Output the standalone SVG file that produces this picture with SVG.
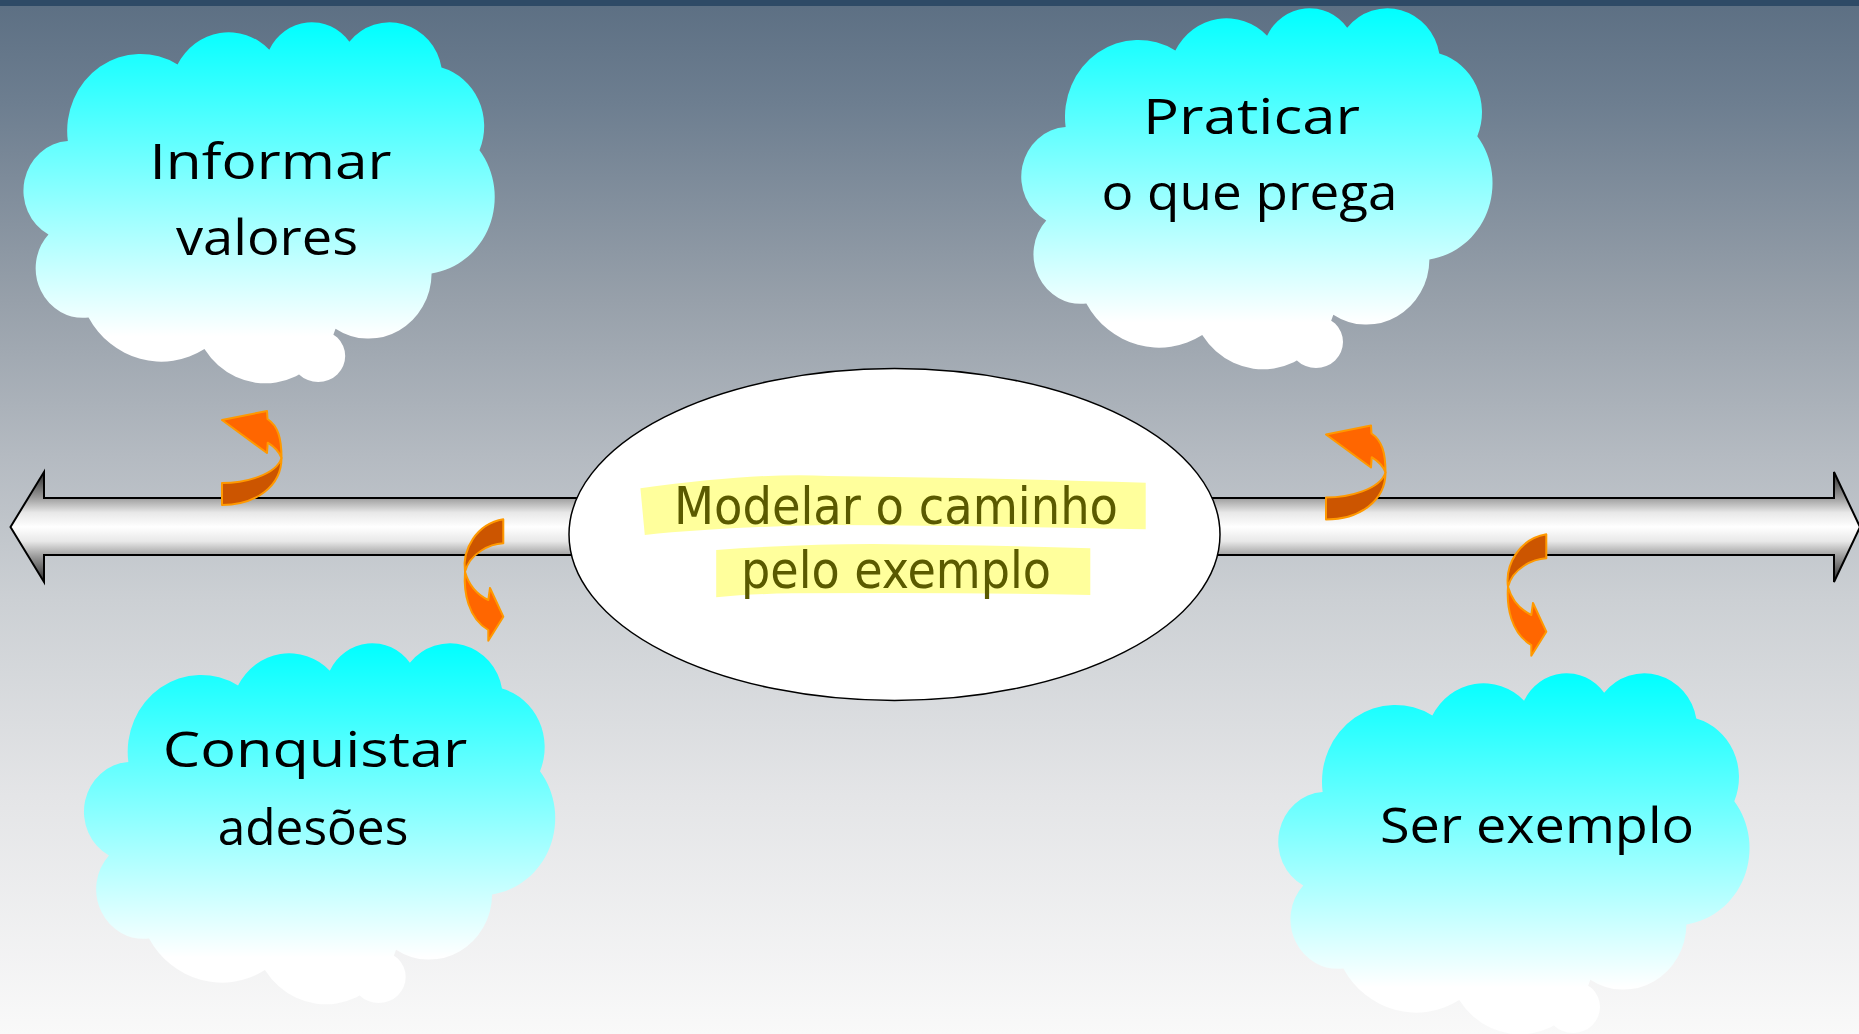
<svg xmlns="http://www.w3.org/2000/svg" width="1859" height="1034" viewBox="0 0 1859 1034">
<style>
.cloud-text{font-family:"Open Sans","DejaVu Sans",sans-serif;font-size:50px;fill:#000000;}
.center-text{font-family:"DejaVu Sans Condensed","Liberation Sans Narrow","Liberation Sans",sans-serif;font-size:52px;fill:#5a5a00;text-anchor:middle;}
.hl{fill:#ffff9c;}
.curl-light{fill:#ff6600;stroke:#ff9900;stroke-width:2;stroke-linejoin:round;}
.curl-dark{fill:#cc5500;stroke:#ff9900;stroke-width:2;stroke-linejoin:round;}
</style>
<defs>
  <linearGradient id="bgGrad" gradientUnits="userSpaceOnUse" x1="0" y1="0" x2="0" y2="1034">
    <stop offset="0" stop-color="#5c6f83"/>
    <stop offset="0.1" stop-color="#6d7e90"/>
    <stop offset="0.29" stop-color="#97a0aa"/>
    <stop offset="0.44" stop-color="#b4bac1"/>
    <stop offset="0.58" stop-color="#ccd0d4"/>
    <stop offset="0.77" stop-color="#e4e5e7"/>
    <stop offset="1" stop-color="#f9f9f9"/>
  </linearGradient>
  <linearGradient id="cloudGrad" x1="0" y1="0" x2="0" y2="1">
    <stop offset="0" stop-color="#00ffff"/>
    <stop offset="0.87" stop-color="#ffffff"/>
    <stop offset="1" stop-color="#ffffff"/>
  </linearGradient>
  <linearGradient id="axisGrad" x1="0" y1="0" x2="0" y2="1">
    <stop offset="0" stop-color="#2a2a2a"/>
    <stop offset="0.23" stop-color="#9a9a9a"/>
    <stop offset="0.37" stop-color="#e8e8e8"/>
    <stop offset="0.5" stop-color="#ffffff"/>
    <stop offset="0.63" stop-color="#e8e8e8"/>
    <stop offset="0.77" stop-color="#9a9a9a"/>
    <stop offset="1" stop-color="#2a2a2a"/>
  </linearGradient>
  <path id="cloudShape" fill="url(#cloudGrad)" d="M42.34,120.08 A73.31,76.8 0 0 1 152.05,43.47 A57.9,60.73 0 0 1 243.8,28.68 A47.39,49.68 0 0 1 323.88,20.72 A52.73,55.11 0 0 1 416,46.58 A57.9,60.78 0 0 1 454,129.17 A73.55,77.05 0 0 1 406.09,252.39 A62.81,65.74 0 0 1 310.03,307.63 A73.3,77.01 0 0 1 178.93,328.11 A83.81,88.1 0 0 1 63.04,296.43 A47.33,49.45 0 0 1 22.95,213.53 A47.17,49.68 0 0 1 42.34,120.08 Z M265.7,335 A27,26 0 1 1 319.7,335 A27,26 0 1 1 265.7,335 Z"/>
  <g id="curlUp">
    <path class="curl-dark" d="M281.5,458 C281.5,486 256,505 222,505 L222,483 C245,483 276,475 281.5,458 Z"/>
    <path class="curl-light" d="M222,420 L267,411 L267.5,419 C278,426 281.5,438 281.5,458 C279,451 273,446 267.7,442.7 L267,453 Z"/>
  </g>
  <g id="curlDown">
    <path class="curl-dark" d="M503.3,519.3 L503.3,543.3 C490,544 470,553 465,571.7 C462,550 476,524 503.3,519.3 Z"/>
    <path class="curl-light" d="M465,571.7 C463.5,592 468,618 488.3,630 L488.3,640.7 L503.3,616.7 L490,588 L488.3,600 C478,595 469,586 465,571.7 Z"/>
  </g>
</defs>

<rect x="0" y="0" width="1859" height="1034" fill="url(#bgGrad)"/>
<rect x="0" y="0" width="1859" height="6" fill="#2e4a66"/>

<g id="axis">
  <path d="M10.5,527 L44,472 L44,498 L1834,498 L1834,472 L1860,527 L1834,582 L1834,555 L44,555 L44,582 Z" fill="url(#axisGrad)" stroke="#000000" stroke-width="2" stroke-linejoin="miter"/>
</g>

<g id="center">
  <ellipse cx="894.5" cy="534.5" rx="325.5" ry="166" fill="#ffffff" stroke="#000000" stroke-width="1.5"/>
  <path class="hl" d="M640.4,488.3 Q760,472 827.8,476 Q1000,478 1145.7,482.7 L1145.7,529.3 Q1000,526 827.8,525 Q720,527 644.8,535 Z"/>
  <path class="hl" d="M716.2,550 Q800,544 872.5,544 Q990,545 1090.3,548.3 L1090.3,595 Q960,592 792,593.3 Q750,594 716.2,597.3 Z"/>
  <text class="center-text" x="896" y="524" textLength="444" lengthAdjust="spacingAndGlyphs">Modelar o caminho</text>
  <text class="center-text" x="896" y="587.5" textLength="310" lengthAdjust="spacingAndGlyphs">pelo exemplo</text>
</g>

<g id="cloud-informar">
  <use href="#cloudShape" x="25.5" y="21"/>
  <text class="cloud-text" x="149.5" y="178.5" textLength="242" lengthAdjust="spacingAndGlyphs">Informar</text>
  <text class="cloud-text" x="176" y="255" textLength="182" lengthAdjust="spacingAndGlyphs">valores</text>
</g>

<g id="cloud-praticar">
  <use href="#cloudShape" x="1023.3" y="7"/>
  <text class="cloud-text" x="1143" y="133.5" textLength="217" lengthAdjust="spacingAndGlyphs">Praticar</text>
  <text class="cloud-text" x="1101.5" y="210" textLength="296" lengthAdjust="spacingAndGlyphs">o que prega</text>
</g>

<g id="cloud-conquistar">
  <use href="#cloudShape" x="86" y="642"/>
  <text class="cloud-text" x="162.7" y="767.3" textLength="304.6" lengthAdjust="spacingAndGlyphs">Conquistar</text>
  <text class="cloud-text" x="217.7" y="845" textLength="190.6" lengthAdjust="spacingAndGlyphs">adesões</text>
</g>

<g id="cloud-ser">
  <use href="#cloudShape" x="1280.3" y="672"/>
  <text class="cloud-text" x="1380" y="843.3" textLength="314" lengthAdjust="spacingAndGlyphs">Ser exemplo</text>
</g>

<g id="connectors">
  <use href="#curlUp"/>
  <use href="#curlDown"/>
  <use href="#curlUp" transform="translate(1104,14.5)"/>
  <use href="#curlDown" transform="translate(1043,15)"/>
</g>
</svg>
